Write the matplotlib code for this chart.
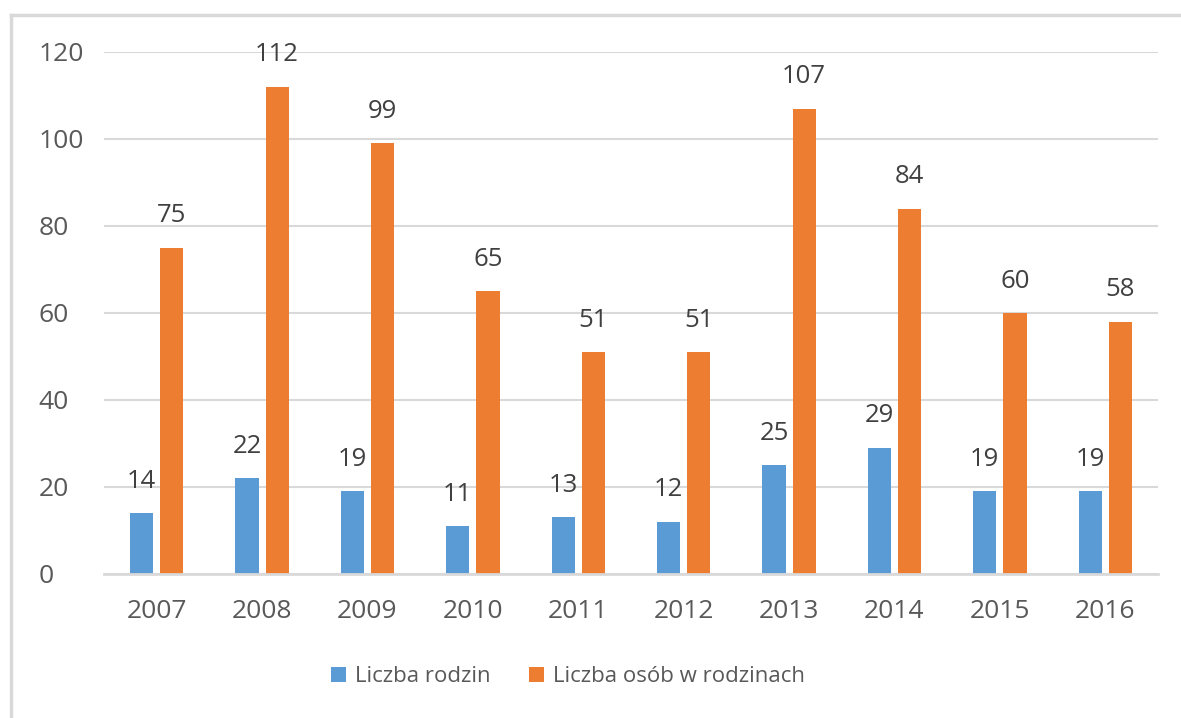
import matplotlib.pyplot as plt
import numpy as np
from matplotlib.lines import Line2D

# dane
lata = ['2007', '2008', '2009', '2010', '2011', '2012', '2013', '2014', '2015', '2016']
rodziny = [14, 22, 19, 11, 13, 12, 25, 29, 19, 19]
osoby = [75, 112, 99, 65, 51, 51, 107, 84, 60, 58]

plt.rcParams['font.family'] = ['Open Sans', 'DejaVu Sans']

niebieski = '#5b9bd5'
pomaranczowy = '#ed7d31'
szary_tekst = '#595959'
szary_linia = '#d9d9d9'

fig = plt.figure(figsize=(11.81, 7.18), dpi=100)
ax = fig.add_axes([0.088, 0.2006, 0.8925, 0.727])

x = np.arange(len(lata))
szer = 0.22
b1 = ax.bar(x - 0.143, rodziny, szer, color=niebieski, label='Liczba rodzin', zorder=3)
b2 = ax.bar(x + 0.143, osoby, szer, color=pomaranczowy, label='Liczba osób w rodzinach', zorder=3)

# etykiety nad słupkami
for bars in (b1, b2):
    for r in bars:
        ax.annotate(str(int(r.get_height())),
                    (r.get_x() + r.get_width() / 2, r.get_height()),
                    xytext=(0, 14), textcoords='offset points',
                    ha='center', va='bottom', fontsize=18.5, color='#404040')

ax.set_xlim(-0.5, len(lata) - 0.5)
ax.set_ylim(0, 120)
ax.set_yticks(range(0, 121, 20))
ax.set_xticks(x)
ax.set_xticklabels(lata)
ax.tick_params(axis='both', length=0, labelsize=19, colors=szary_tekst)
ax.tick_params(axis='x', pad=18)
ax.tick_params(axis='y', pad=47)
for lbl in ax.get_yticklabels():
    lbl.set_horizontalalignment('left')

ax.grid(axis='y', color=szary_linia, linewidth=1.5, zorder=0)
for s in ['top', 'right', 'left']:
    ax.spines[s].set_visible(False)
ax.spines['bottom'].set_color(szary_linia)
ax.spines['bottom'].set_linewidth(2)
ax.spines['bottom'].set_zorder(4)

fig.legend(handles=[b1, b2], loc='center', bbox_to_anchor=(568 / 1181, 1 - 677 / 718),
           ncol=2, frameon=False, fontsize=16, handlelength=0.65, handleheight=0.65,
           handletextpad=0.4, columnspacing=1.75, labelcolor=szary_tekst)

# ramka wykresu
fig.add_artist(Line2D([11 / 1181, 11 / 1181], [0, 1 - 15 / 718], transform=fig.transFigure,
                      color=szary_linia, linewidth=2.5))
fig.add_artist(Line2D([11 / 1181, 1], [1 - 15 / 718, 1 - 15 / 718], transform=fig.transFigure,
                      color=szary_linia, linewidth=2.5))

fig.savefig('out.png', dpi=100)
